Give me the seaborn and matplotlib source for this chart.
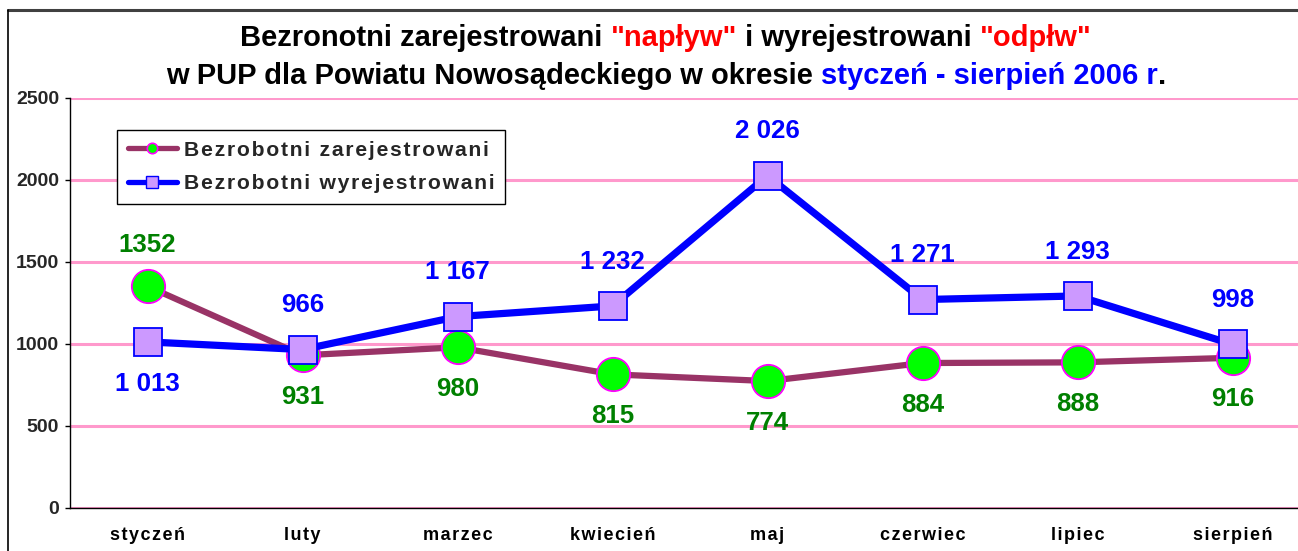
import numpy as np
import matplotlib
matplotlib.use("Agg")
import matplotlib.pyplot as plt
import seaborn as sns
from matplotlib.lines import Line2D

# data
months = ["styczeń", "luty", "marzec", "kwiecień", "maj", "czerwiec", "lipiec", "sierpień"]
registered = [1352, 931, 980, 815, 774, 884, 888, 916]
deregistered = [1013, 966, 1167, 1232, 2026, 1271, 1293, 998]
registered_labels = ["1352", "931", "980", "815", "774", "884", "888", "916"]
deregistered_labels = ["1 013", "966", "1 167", "1 232", "2 026", "1 271", "1 293", "998"]
series_names = ["Bezrobotni zarejestrowani", "Bezrobotni wyrejestrowani"]
y_ticks = [0, 500, 1000, 1500, 2000, 2500]

sns.set_theme(style="white")
plt.rcParams["font.family"] = ["Liberation Sans", "DejaVu Sans"]
plt.rcParams["font.weight"] = "bold"

HS = "\u200a"  # hair space, fakes the letter spacing of the original


def spaced(s):
    return HS.join(s)


W, H = 1298, 551
fig = plt.figure(figsize=(W / 100, H / 100), dpi=100)
ax = fig.add_axes([70 / W, 43 / H, 1240 / W, 410 / H])

x = np.arange(len(months))

sns.lineplot(x=x, y=registered, ax=ax, color="#993366", linewidth=4.5,
             marker="o", markersize=24, markerfacecolor="#00FF00",
             markeredgecolor="#FF00FF", markeredgewidth=1.3, zorder=3)
sns.lineplot(x=x, y=deregistered, ax=ax, color="#0000FF", linewidth=5.2,
             marker="s", markersize=20, markerfacecolor="#CC99FF",
             markeredgecolor="#0000FF", markeredgewidth=1.3, zorder=4)

# value labels
for i in range(len(months)):
    dy = 30 if i == 0 else -30
    ax.annotate(registered_labels[i], (x[i], registered[i]), xytext=(0, dy),
                textcoords="offset points", ha="center", va="center",
                color="#008000", fontsize=18.6, fontweight="bold", zorder=5)
    dy = -30 if i == 0 else 32
    ax.annotate(deregistered_labels[i], (x[i], deregistered[i]), xytext=(0, dy),
                textcoords="offset points", ha="center", va="center",
                color="#0000FF", fontsize=18.6, fontweight="bold", zorder=5)

# axes
ax.set_xlim(-0.5, len(months) - 0.5)
ax.set_ylim(0, 2500)
ax.set_yticks(y_ticks)
ax.set_yticklabels([str(v) for v in y_ticks], fontsize=14, fontweight="bold")
ax.set_xticks(x)
ax.set_xticklabels([spaced(m) for m in months], fontsize=13, fontweight="bold")
ax.set_xticks(np.arange(0.5, len(months) - 0.5, 1), minor=True)
ax.tick_params(axis="x", which="major", length=0, pad=14, colors="black")
ax.tick_params(axis="x", which="minor", length=3.6, width=1, color="black", direction="out")
ax.tick_params(axis="y", length=3.6, width=1, color="black", direction="out", pad=4.3, left=True)
ax.set_xlabel("")
ax.set_ylabel("")

ax.yaxis.grid(True, color="#FF99CC", linewidth=2.2)
ax.xaxis.grid(False)
ax.set_axisbelow(True)
for side in ["top", "right"]:
    ax.spines[side].set_visible(False)
for side in ["left", "bottom"]:
    ax.spines[side].set_color("black")
    ax.spines[side].set_linewidth(1)
    ax.spines[side].set_zorder(2.5)

# legend
handles = [
    Line2D([], [], color="#993366", lw=3.8, marker="o", markersize=7.5,
           markerfacecolor="#00FF00", markeredgecolor="#FF00FF", markeredgewidth=1.2),
    Line2D([], [], color="#0000FF", lw=3.8, marker="s", markersize=8.5,
           markerfacecolor="#CC99FF", markeredgecolor="#0000FF", markeredgewidth=1),
]
leg = ax.legend(handles, [spaced(s) for s in series_names], loc="upper left",
                bbox_to_anchor=(117 / W, 1 - 130 / H), bbox_transform=fig.transFigure,
                prop={"size": 15.2, "weight": "bold"}, frameon=True, fancybox=False,
                edgecolor="black", framealpha=1, borderpad=0.5, handlelength=2.35,
                handletextpad=0.3, labelspacing=0.7, borderaxespad=0)
leg.get_frame().set_linewidth(1)

# title in coloured pieces
title_lines = [
    [("Bezronotni zarejestrowani ", "black"), ('"napływ"', "#FF0000"),
     (" i wyrejestrowani ", "black"), ('"odpłw"', "#FF0000")],
    [("w PUP dla Powiatu Nowosądeckiego w okresie ", "black"),
     ("styczeń - sierpień 2006 r", "#0000FF"), (".", "black")],
]
baselines = [46, 84]
renderer = fig.canvas.get_renderer()
for pieces, base in zip(title_lines, baselines):
    texts = [fig.text(0, 1 - base / H, s, color=c, fontsize=21, fontweight="bold",
                      va="baseline", ha="left") for s, c in pieces]
    widths = [t.get_window_extent(renderer).width for t in texts]
    start = 666 - sum(widths) / 2
    for t, w in zip(texts, widths):
        t.set_x(start / W)
        start += w

# outer frame (top and left edges visible)
fig.add_artist(Line2D([8 / W, 1], [1 - 10 / H, 1 - 10 / H], transform=fig.transFigure,
                      color="#404040", lw=2.2))
fig.add_artist(Line2D([8 / W, 8 / W], [0, 1 - 10 / H], transform=fig.transFigure,
                      color="black", lw=1.2))

fig.savefig("out.png", dpi=100)
